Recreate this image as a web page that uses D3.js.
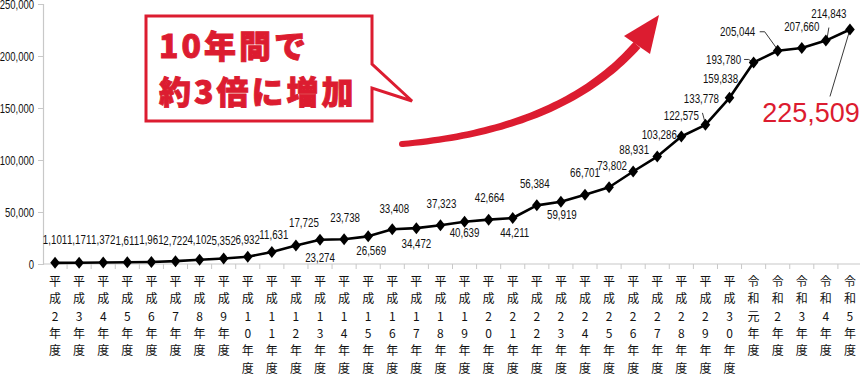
<!DOCTYPE html>
<html>
<head>
<meta charset="utf-8">
<script src="https://cdn.jsdelivr.net/npm/d3@7"></script>
<style>
  body { margin: 0; background: #fff; }
  svg { display: block; }
  .num { font-family: "Liberation Sans", Arial, sans-serif; font-size: 12.5px; fill: #111; }
  .cat { font-family: "Noto Sans CJK JP", sans-serif; font-size: 12px; fill: #111; }
</style>
</head>
<body>
<div id="viz"></div>
<script>
// 年度
var years = ["平成2年度","平成3年度","平成4年度","平成5年度","平成6年度","平成7年度","平成8年度","平成9年度",
  "平成10年度","平成11年度","平成12年度","平成13年度","平成14年度","平成15年度","平成16年度","平成17年度",
  "平成18年度","平成19年度","平成20年度","平成21年度","平成22年度","平成23年度","平成24年度","平成25年度",
  "平成26年度","平成27年度","平成28年度","平成29年度","平成30年度","令和元年度","令和2年度","令和3年度",
  "令和4年度","令和5年度"];

var counts = [1101, 1171, 1372, 1611, 1961, 2722, 4102, 5352, 6932, 11631, 17725, 23274, 23738, 26569,
  33408, 34472, 37323, 40639, 42664, 44211, 56384, 59919, 66701, 73802, 88931, 103286, 122575, 133778,
  159838, 193780, 205044, 207660, 214843, 225509];

var yTicks = [0, 50000, 100000, 150000, 200000, 250000];

var calloutLines = ["10年間で", "約3倍に増加"];

// label placement (offset of label centre from its point)
var labelOffsets = [[0,-23],[0,-23],[0,-23],[0,-22],[0,-22],[0,-21],[0,-20],[0,-18],[0,-17],[2,-17],
  [8,-23],[0,18],[1,-22],[3,14],[2,-21],[0,15],[1,-22],[0,11],[1,-22],[2,15],
  [-2,-22],[1,13],[0,-22],[3,-22],[1,-22],[2,-22],[0,-21],[-4,-26],[-9,-19],[-30,-3],
  [-40,-19],[0,-21],[3,-27],[-39,84]];

// leader lines, relative to the point
var leaders = {
  27: [[-3,-12],[0,-1]],
  29: [[-9.5,-3],[-5,-3],[0,0]],
  30: [[-18,-19],[-13,-19],[0,-1]],
  32: [[3,-13],[1,-1]],
  33: [[-20,67],[0,0]]
};

var red = "#dc1c30";
var squeeze = 0.78;
var W = 860, H = 376;

var svg = d3.select("#viz").append("svg")
    .attr("width", W)
    .attr("height", H);

var x = d3.scaleBand().domain(years).range([43, 862]);
var y = d3.scaleLinear().domain([0, 250000]).range([264, 4]);
var cx = function(d) { return x(d) + x.bandwidth() / 2; };
var fmt = d3.format(",");

// y axis
var yAxis = svg.append("g").attr("transform", "translate(43,0)")
    .call(d3.axisLeft(y).tickValues(yTicks).tickSize(5).tickFormat(""));
yAxis.select(".domain").attr("stroke", "#c8c8c8").attr("stroke-width", 1.2);
yAxis.selectAll(".tick line").attr("stroke", "#c8c8c8");

svg.selectAll(".ylab").data(yTicks).enter().append("text")
    .attr("class", "num")
    .attr("text-anchor", "end")
    .attr("dominant-baseline", "central")
    .attr("transform", function(d) { return "translate(34," + y(d) + ") scale(0.76,1)"; })
    .text(function(d) { return fmt(d); });

// x axis line + ticks between categories
svg.append("line").attr("x1", 43).attr("x2", 862).attr("y1", 264).attr("y2", 264)
    .attr("stroke", "#c8c8c8").attr("stroke-width", 1.2);
svg.selectAll(".xtick").data(years.slice(1)).enter().append("line")
    .attr("x1", function(d) { return x(d); }).attr("x2", function(d) { return x(d); })
    .attr("y1", 264).attr("y2", 269).attr("stroke", "#c8c8c8");

// category labels, one character per line
svg.selectAll(".catlab").data(years).enter().append("text")
    .attr("class", "cat")
    .attr("text-anchor", "middle")
    .each(function(d) {
      var t = d3.select(this);
      Array.from(d).forEach(function(c, i) {
        t.append("tspan").attr("x", cx(d)).attr("y", 286 + i * 17.3).text(c);
      });
    });

// line
svg.append("path").datum(counts)
    .attr("fill", "none").attr("stroke", "#000").attr("stroke-width", 2.6)
    .attr("stroke-linejoin", "round")
    .attr("d", d3.line().x(function(d, i) { return cx(years[i]); }).y(function(d) { return y(d); }));

// leaders
Object.keys(leaders).forEach(function(k) {
  var i = +k, px = cx(years[i]), py = y(counts[i]);
  svg.append("path")
    .attr("fill", "none").attr("stroke", "#222").attr("stroke-width", 0.9)
    .attr("d", d3.line()(leaders[k].map(function(p) { return [px + p[0], py + p[1]]; })));
});

// markers
svg.selectAll(".mk").data(counts).enter().append("path")
    .attr("transform", function(d, i) { return "translate(" + cx(years[i]) + "," + y(d) + ")"; })
    .attr("d", "M0,-6L4.8,0L0,6L-4.8,0Z")
    .attr("fill", "#000");

// value labels
var last = counts.length - 1;
svg.selectAll(".vl").data(counts.slice(0, last)).enter().append("text")
    .attr("class", "num")
    .attr("text-anchor", "middle")
    .attr("dominant-baseline", "central")
    .attr("transform", function(d, i) {
      return "translate(" + (cx(years[i]) + labelOffsets[i][0]) + "," + (y(d) + labelOffsets[i][1]) +
        ") scale(" + squeeze + ",1)";
    })
    .text(function(d) { return fmt(d); });

svg.append("text")
    .attr("x", cx(years[last]) + labelOffsets[last][0])
    .attr("y", y(counts[last]) + labelOffsets[last][1])
    .attr("text-anchor", "middle")
    .attr("dominant-baseline", "central")
    .attr("font-family", "Liberation Sans, Arial, sans-serif")
    .attr("font-size", 27)
    .attr("fill", red)
    .text(fmt(counts[last]));

// callout box with tail
var box = d3.path();
box.moveTo(146, 16); box.lineTo(372, 16); box.lineTo(372, 64); box.lineTo(412, 101);
box.lineTo(372, 88); box.lineTo(372, 121); box.lineTo(146, 121); box.closePath();
svg.append("path").attr("d", box.toString())
    .attr("fill", "#fff").attr("stroke", red).attr("stroke-width", 3).attr("stroke-linejoin", "miter");

svg.selectAll(".callout").data(calloutLines).enter().append("text")
    .attr("x", 159)
    .attr("y", function(d, i) { return 58 + i * 46; })
    .attr("font-family", "Noto Sans CJK JP, sans-serif")
    .attr("font-weight", 900)
    .attr("font-size", 32)
    .attr("letter-spacing", 3)
    .attr("fill", red)
    .attr("stroke", red)
    .attr("stroke-width", 0.9)
    .text(function(d) { return d; });

// curved arrow, tapering shaft
var p0 = [402, 144], p1 = [562, 130], p2 = [637, 45];
var bez = function(t) {
  var a = (1 - t) * (1 - t), b = 2 * (1 - t) * t, c = t * t;
  return [a * p0[0] + b * p1[0] + c * p2[0], a * p0[1] + b * p1[1] + c * p2[1]];
};
var left = [], right = [];
d3.range(0, 1.0001, 0.02).forEach(function(t) {
  var p = bez(t), q = bez(Math.min(1, t + 0.01)), r = bez(Math.max(0, t - 0.01));
  var dx = q[0] - r[0], dy = q[1] - r[1], len = Math.sqrt(dx * dx + dy * dy);
  var hw = 3 + 1.5 * t;
  left.push([p[0] - dy / len * hw, p[1] + dx / len * hw]);
  right.push([p[0] + dy / len * hw, p[1] - dx / len * hw]);
});
svg.append("path")
    .attr("d", d3.line()(left.concat(right.reverse())) + "Z")
    .attr("fill", red);
svg.append("circle").attr("cx", p0[0]).attr("cy", p0[1]).attr("r", 3).attr("fill", red);
svg.append("path").attr("d", "M659,15L624,36L650,54Z").attr("fill", red);
</script>
</body>
</html>
